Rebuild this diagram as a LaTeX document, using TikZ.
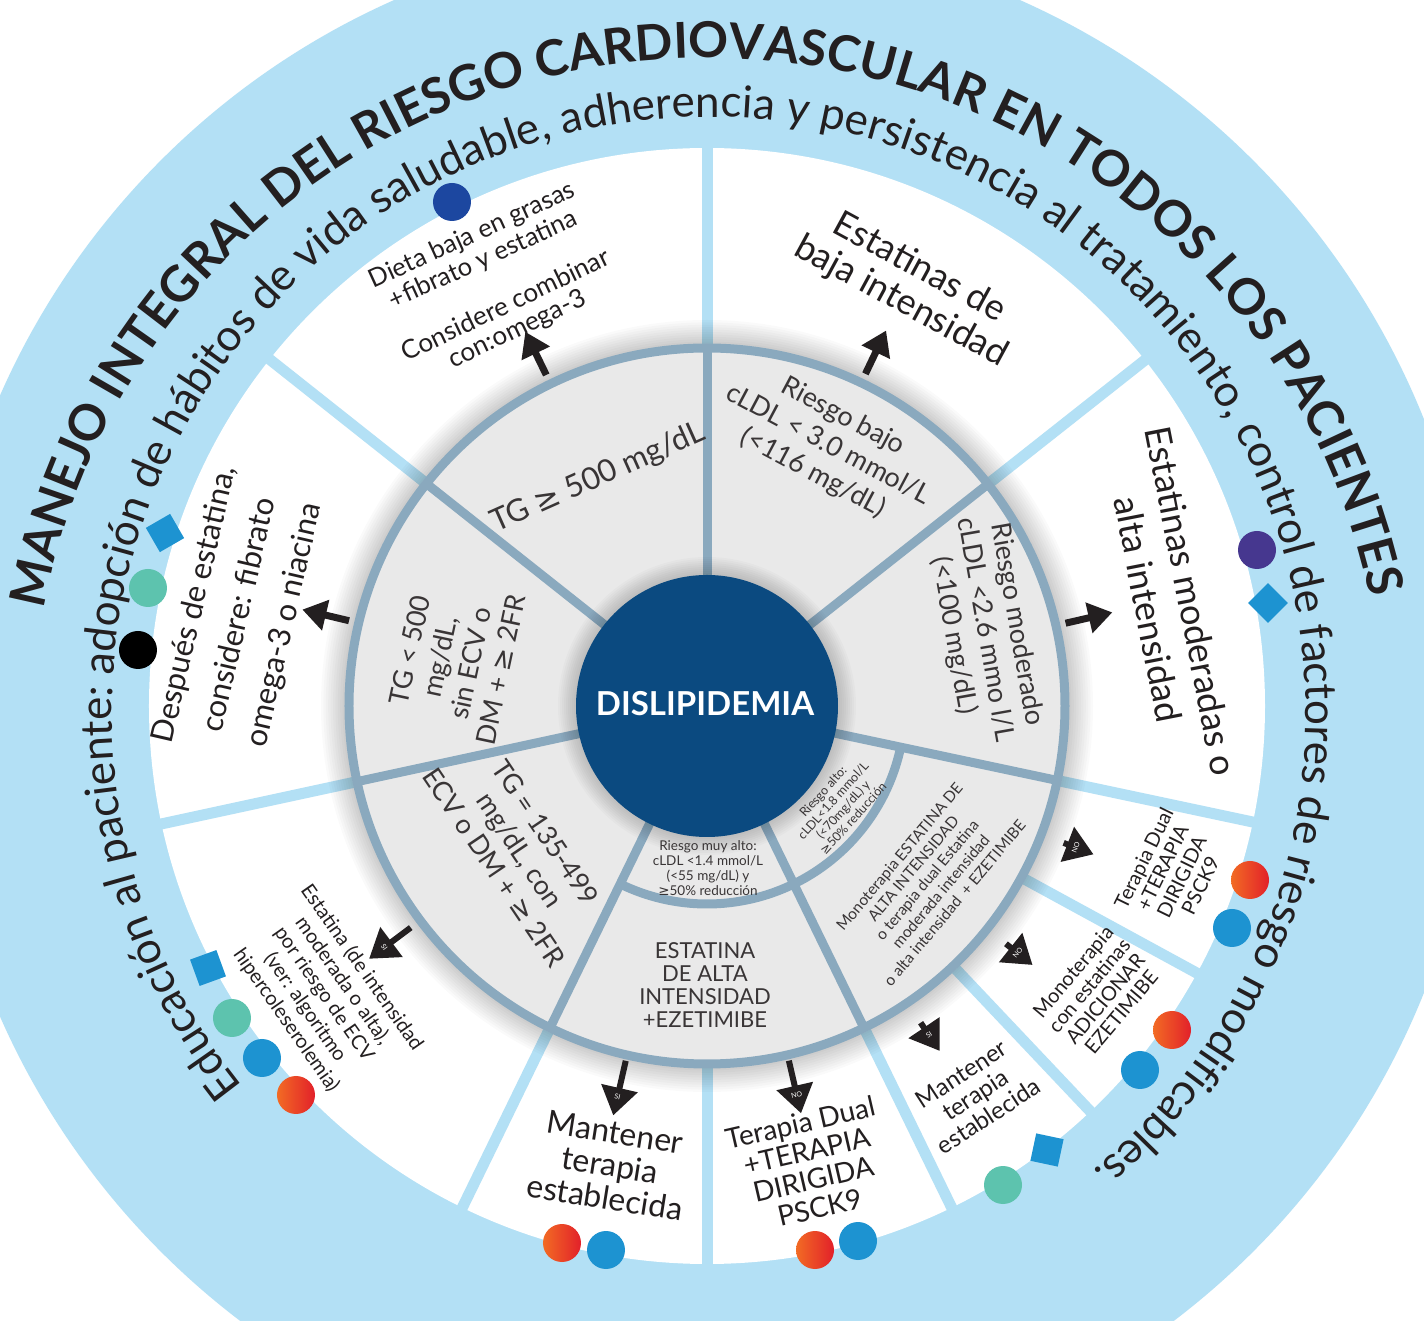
\documentclass[tikz,border=0pt]{standalone}
\usepackage{fontspec}
\setmainfont{Lato}
\newfontfamily\dejavu{DejaVu Sans}
\usetikzlibrary{arrows.meta,decorations.text}

\definecolor{skyblue}{HTML}{B3E0F5}
\definecolor{ringgray}{HTML}{E9E9E9}
\definecolor{ringline}{HTML}{8AA9BE}
\definecolor{coreblue}{HTML}{0B4A80}
\definecolor{inkgray}{HTML}{231F20}
\definecolor{dotnavy}{HTML}{1C47A0}
\definecolor{dotteal}{HTML}{5DC3AE}
\definecolor{dotblue}{HTML}{1D93D1}
\definecolor{dotpurple}{HTML}{46378F}
\definecolor{dotorange}{HTML}{F26B24}
\definecolor{dotred}{HTML}{E2202A}

\newcommand{\gesign}{{\dejavu ≥}}
\newcommand{\ringtitlefont}{\fontsize{49.5}{52}\selectfont\bfseries\color{inkgray}}
\newcommand{\ringsubfont}{\fontsize{44}{46}\selectfont\color{inkgray}}

\tikzset{
  seglabel/.style={align=center, text=inkgray, inner sep=0pt},
  ringlabel/.style={align=center, text=inkgray!90, inner sep=0pt},
  outerline/.style={skyblue, line width=11pt},
  innerline/.style={ringline, line width=9pt},
  bigarrow/.style={inkgray, line width=7pt, -{Triangle[length=24pt,width=30pt]}},
  yesno/.style={inkgray, line width=6pt, -{Triangle[length=28pt,width=36pt]}},
  yesnotext/.style={text=white, font=\fontsize{7}{7}\selectfont, inner sep=0pt}
}

\begin{document}
\begin{tikzpicture}[x=1pt,y=1pt]
  \useasboundingbox (-707,-615) rectangle (717,706);
  \clip (-707,-615) rectangle (717,706);
  \fill[white] (-707,-615) rectangle (717,706);

  % outer blue band and white segments
  \fill[skyblue] (0,0) circle (772);
  \fill[white] (0,0) circle (558);
  \foreach \a in {90,38.3,-12,-28.6,-46.6,-64,-90,-116,192.2,141.6}
    \draw[outerline] (\a:340) -- (\a:566);

  % soft shadow round the inner ring
  \foreach \k in {1,...,10}
    \fill[black, opacity=0.018] (0,0) circle ({362+2.4*\k});

  % inner gray ring
  \fill[ringgray] (0,0) circle (362);
  \foreach \a in {90,38.3,-12,-64,-116,192.2,141.6}
    \draw[innerline] (\a:125) -- (\a:358);
  \draw[innerline] (-116:198) arc[start angle=-116, end angle=-12, radius=198];
  \draw[innerline] (0,0) circle (358);

  % core
  \foreach \k in {1,...,9}
    \fill[black, opacity=0.02] (0,0) circle ({131+2*\k});
  \fill[coreblue] (0,0) circle (131);
  \node[font=\fontsize{33}{33}\selectfont\bfseries, text=white] (core) at (-2,2) {DISLIPIDEMIA};

  % texts of the gray ring
  \node[ringlabel, rotate=24, font=\fontsize{31}{31}\selectfont] (tgalto) at (-109,228) {TG \gesign\ 500 mg/dL};
  \node[ringlabel, rotate=78, font=\fontsize{27}{31}\selectfont] (tgbajo) at (-252,46) {TG < 500\\mg/dL,\\sin ECV o\\DM + \gesign\ 2FR};
  \node[ringlabel, rotate=-56, font=\fontsize{27}{31}\selectfont] (tgmedio) at (-187,-144) {TG = 135-499\\mg/dL, con\\ECV o DM + \gesign\ 2FR};
  \node[ringlabel, font=\fontsize{22}{23}\selectfont] (altaeze) at (-2,-279) {ESTATINA\\DE ALTA\\INTENSIDAD\\+EZETIMIBE};
  \node[ringlabel, font=\fontsize{13.5}{15}\selectfont] (muyalto) at (1,-162) {Riesgo muy alto:\\cLDL <1.4 mmol/L\\(<55 mg/dL) y\\\gesign50\% reducción};
  \node[ringlabel, rotate=48, font=\fontsize{12.5}{13.5}\selectfont] (alto) at (131,-99) {Riesgo alto:\\cLDL<1.8 mmol/L\\(<70mg/dL) y\\\gesign50\% reducción};
  \node[ringlabel, rotate=50, font=\fontsize{15.5}{18}\selectfont] (mono) at (220,-174) {Monoterapia ESTATINA DE\\ALTA INTENSIDAD\\o terapia dual Estatina\\moderada intensidad\\o alta intensidad \ + EZETIMIBE};
  \node[ringlabel, rotate=-80, font=\fontsize{27}{32}\selectfont] (moderado) at (278,76) {Riesgo moderado\\cLDL <2.6 mmo l/L\\(<100 mg/dL)};
  \node[ringlabel, rotate=-28, font=\fontsize{27}{32}\selectfont] (bajo) at (121,261) {Riesgo bajo\\cLDL < 3.0 mmol/L\\(<116 mg/dL)};

  % texts of the white segments
  \node[seglabel, rotate=24.5, font=\fontsize{25.5}{27}\selectfont] (dieta) at (-229,458) {Dieta baja en grasas\\+fibrato y estatina};
  \node[seglabel, rotate=25.5, font=\fontsize{26}{26}\selectfont] (omega) at (-195,388) {Considere combinar\\con:omega-3};
  \node[seglabel, rotate=-28.5, font=\fontsize{36}{38}\selectfont] (baja) at (203,421) {Estatinas de\\baja intensidad};
  \node[seglabel, rotate=-79, font=\fontsize{36}{44}\selectfont] (moderadas) at (463,101) {Estatinas moderadas o\\alta intensidad};
  \node[seglabel, rotate=77, font=\fontsize{31}{46}\selectfont] (despues) at (-467,91) {Después de estatina,\\considere: fibrato\\omega-3 o niacina};
  \node[seglabel, rotate=-55, font=\fontsize{20}{23}\selectfont] (estatina) at (-383,-288) {Estatina (de intensidad\\moderada o alta),\\por riesgo de ECV\\(ver: algoritmo\\hipercoleserolemia)};
  \node[seglabel, rotate=-9, font=\fontsize{32}{33}\selectfont] (mantenerA) at (-97,-459) {Mantener\\terapia\\establecida};
  \node[seglabel, rotate=13, font=\fontsize{28}{29}\selectfont] (dualA) at (103,-459) {Terapia Dual\\+TERAPIA\\DIRIGIDA\\PSCK9};
  \node[seglabel, rotate=33, font=\fontsize{24}{25}\selectfont] (mantenerB) at (268,-389) {Mantener\\terapia\\establecida};
  \node[seglabel, rotate=50, font=\fontsize{20}{21}\selectfont] (adicionar) at (390,-286) {Monoterapia\\con estatinas\\ADICIONAR\\EZETIMIBE};
  \node[seglabel, rotate=64, font=\fontsize{20}{21}\selectfont] (dualB) at (465,-166) {Terapia Dual\\+TERAPIA\\DIRIGIDA\\PSCK9};

  % arrows out of the gray ring
  \foreach \a/\n in {115.9/1,64.5/2,13/3,166.6/4} {
    \coordinate (bs\n) at (\a:368);
    \coordinate (be\n) at (\a:416);
    \draw[bigarrow] (bs\n) -- (be\n);
  }
  \foreach \a/\ra/\rb/\t [count=\i] in {216.8/370/422/SI, -102.9/364/420/SI, -77/364/418/NO,
                                       -56/382/416/SI, -38.5/382/416/NO, -21/382/414/NO} {
    \coordinate (ys\i) at (\a:\ra);
    \coordinate (ye\i) at (\a:\rb);
    \draw[yesno] (ys\i) -- (ye\i);
    \node[yesnotext, rotate=\a+90] (yl\i) at (\a:{\rb-19}) {\t};
  }

  % markers on the rim
  \foreach \x/\y/\c in {-255/504/dotnavy, -559/118/dotteal, -569/56/black, 550/156/dotpurple,
                        525/-222/dotblue, 433/-364/dotblue, 296/-479/dotteal, 151/-535/dotblue,
                        -101/-544/dotblue, -475/-312/dotteal, -445/-352/dotblue}
    \fill[\c] (\x,\y) circle (19);
  \foreach \x/\y in {543/-174, 465/-324, 108/-544, -145/-537, -411/-389}
    \shade[left color=dotorange, right color=dotred] (\x,\y) circle (19);
  \foreach \x/\y/\r in {-542/173/30, 561/103/45, 340/-444/-12, -499/-262/20}
    \fill[dotblue, shift={(\x,\y)}, rotate=\r] (-14,-14) rectangle (14,14);

  % curved texts in the blue band
  \begin{scope}[shift={(1,-28)}]
    \path[decorate, decoration={text along path, text align=center,
        text={|\ringtitlefont|MANEJO INTEGRAL DEL RIESGO CARDIOVASCULAR EN TODOS LOS PACIENTES}}]
      (210.5:676) arc[start angle=210.5, end angle=-29.5, radius=676];
  \end{scope}
  \begin{scope}[shift={(2,-8)}]
    \path[decorate, decoration={text along path, text align=center,
        text={|\ringsubfont|Educación al paciente: adopción de hábitos de vida saludable, adherencia y persistencia al tratamiento, control de factores de riesgo modificables.}}]
      (234.3:597) arc[start angle=234.3, end angle=-65.7, radius=597];
  \end{scope}
\end{tikzpicture}
\end{document}
